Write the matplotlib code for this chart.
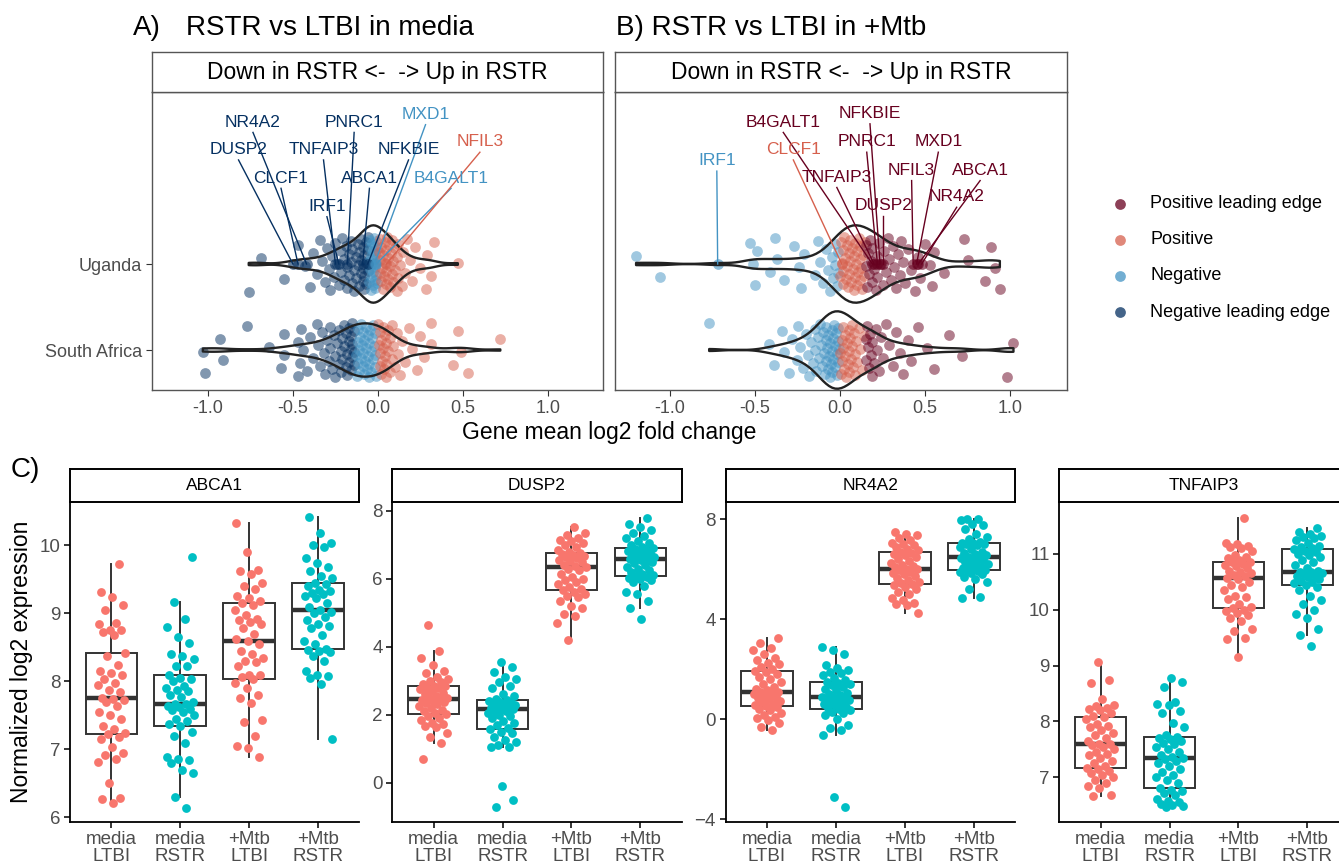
# plot.py - GSEA leading-edge log2FC (A, B) + per-gene expression boxplots (C)
import numpy as np, matplotlib as mpl
mpl.use("Agg"); import matplotlib.pyplot as plt

plt.rcParams["font.family"] = ["Liberation Sans", "DejaVu Sans"]

# ============================== DATA ==============================
# A) RSTR vs LTBI in media: gene mean log2 fold change per GSEA category
A_UG_NLE = [-0.76, -0.69, -0.55, -0.47, -0.43, -0.40, -0.38, -0.36, -0.34, -0.33, -0.31, -0.30, -0.29, -0.28,
            -0.27, -0.26, -0.25, -0.24, -0.23, -0.22, -0.22, -0.21, -0.20, -0.20, -0.19, -0.18, -0.18, -0.17,
            -0.17, -0.16, -0.16, -0.15, -0.15, -0.14, -0.14, -0.13, -0.13, -0.12, -0.12, -0.11, -0.11, -0.10,
            -0.10, -0.10, -0.09, -0.09, -0.09, -0.08, -0.08, -0.08, -0.07, -0.07, -0.07, -0.06, -0.06, -0.06]
A_UG_NEG = [-0.055, -0.05, -0.05, -0.045, -0.045, -0.04, -0.04, -0.04, -0.035, -0.035, -0.03, -0.03, -0.03,
            -0.025, -0.025, -0.02, -0.02, -0.02, -0.015, -0.015, -0.01, -0.01, -0.01, -0.005, -0.005]
A_UG_POS = [0.005, 0.01, 0.01, 0.015, 0.02, 0.02, 0.025, 0.03, 0.03, 0.035, 0.04, 0.04, 0.045, 0.05, 0.05,
            0.055, 0.06, 0.06, 0.065, 0.07, 0.07, 0.075, 0.08, 0.08, 0.09, 0.09, 0.10, 0.10, 0.11, 0.11, 0.12,
            0.12, 0.13, 0.14, 0.15, 0.16, 0.17, 0.19, 0.20, 0.22, 0.25, 0.28, 0.29, 0.31, 0.33, 0.47]
A_SA_NLE = [-1.03, -1.02, -0.93, -0.91, -0.77, -0.64, -0.57, -0.55, -0.55, -0.47, -0.47, -0.46, -0.45, -0.44,
            -0.42, -0.40, -0.38, -0.36, -0.35, -0.34, -0.33, -0.32, -0.31, -0.30, -0.29, -0.28, -0.28, -0.27,
            -0.26, -0.25, -0.25, -0.24, -0.23, -0.23, -0.22, -0.22, -0.21, -0.21, -0.20, -0.20, -0.19, -0.19,
            -0.18, -0.18, -0.17, -0.17, -0.17, -0.16, -0.16, -0.16, -0.15, -0.15, -0.15, -0.14, -0.14, -0.14]
A_SA_NEG = [-0.13, -0.125, -0.12, -0.12, -0.115, -0.11, -0.11, -0.105, -0.10, -0.10, -0.095, -0.09, -0.09,
            -0.085, -0.08, -0.08, -0.075, -0.07, -0.07, -0.065, -0.06, -0.06, -0.055, -0.05, -0.05, -0.045,
            -0.04, -0.04, -0.035, -0.03, -0.03, -0.025, -0.02, -0.02, -0.015, -0.01]
A_SA_POS = [0.0, 0.005, 0.01, 0.01, 0.015, 0.02, 0.02, 0.025, 0.03, 0.03, 0.035, 0.04, 0.04, 0.045, 0.05,
            0.05, 0.06, 0.06, 0.07, 0.07, 0.08, 0.08, 0.09, 0.10, 0.11, 0.12, 0.13, 0.14, 0.16, 0.18, 0.20,
            0.23, 0.25, 0.27, 0.31, 0.31, 0.44, 0.47, 0.49, 0.53, 0.72]
A_LAB_GENES = ["DUSP2", "CLCF1", "NR4A2", "TNFAIP3", "IRF1", "PNRC1", "ABCA1", "NFKBIE", "MXD1", "B4GALT1", "NFIL3"]
A_LAB_LFC = [-0.50, -0.47, -0.42, -0.25, -0.23, -0.18, -0.09, -0.06, -0.02, -0.01, 0.05]
A_LAB_CAT = ["nle"] * 8 + ["neg", "neg", "pos"]

# B) RSTR vs LTBI in +Mtb
B_UG_NEG = [-1.20, -1.06, -0.53, -0.51, -0.50, -0.49, -0.41, -0.38, -0.37, -0.33, -0.27, -0.24, -0.23, -0.21,
            -0.15, -0.13, -0.12, -0.10, -0.08, -0.07, -0.06, -0.05, -0.04, -0.03, -0.03, -0.02, -0.01, -0.01]
B_UG_POS = [0.0, 0.005, 0.01, 0.015, 0.02, 0.02, 0.025, 0.03, 0.035, 0.04, 0.04, 0.045, 0.05, 0.055, 0.06,
            0.06, 0.065, 0.07, 0.075, 0.08, 0.08, 0.085, 0.09, 0.095, 0.10, 0.10, 0.105, 0.11, 0.115, 0.12,
            0.12, 0.125, 0.13, 0.135, 0.14, 0.145]
B_UG_PLE = [0.15, 0.155, 0.16, 0.165, 0.17, 0.175, 0.18, 0.185, 0.19, 0.20, 0.21, 0.215, 0.22, 0.23, 0.24,
            0.25, 0.26, 0.27, 0.28, 0.29, 0.30, 0.31, 0.32, 0.33, 0.34, 0.35, 0.36, 0.37, 0.38, 0.40, 0.42,
            0.44, 0.46, 0.47, 0.50, 0.53, 0.54, 0.55, 0.61, 0.73, 0.75, 0.85, 0.89, 0.91, 0.94]
B_SA_NEG = [-0.77, -0.42, -0.39, -0.34, -0.33, -0.30, -0.28, -0.255, -0.245, -0.235, -0.22, -0.20, -0.19,
            -0.18, -0.17, -0.16, -0.15, -0.145, -0.14, -0.13, -0.125, -0.12, -0.11, -0.105, -0.10, -0.095,
            -0.09, -0.085, -0.08, -0.08, -0.075, -0.07, -0.07, -0.065, -0.06, -0.06, -0.055, -0.05, -0.05,
            -0.045, -0.04, -0.04, -0.035, -0.03, -0.03, -0.025, -0.02, -0.02, -0.015, -0.01, -0.01, -0.005]
B_SA_POS = [0.0, 0.005, 0.01, 0.01, 0.015, 0.02, 0.025, 0.03, 0.03, 0.035, 0.04, 0.045, 0.05, 0.05, 0.055,
            0.06, 0.065, 0.07, 0.07, 0.075, 0.08, 0.085, 0.09, 0.095, 0.10, 0.11, 0.12, 0.13, 0.14]
B_SA_PLE = [0.15, 0.155, 0.16, 0.165, 0.17, 0.175, 0.18, 0.185, 0.19, 0.20, 0.21, 0.22, 0.23, 0.24, 0.25,
            0.27, 0.29, 0.31, 0.33, 0.35, 0.37, 0.40, 0.42, 0.46, 0.51, 0.55, 0.64, 0.72, 0.98, 1.02]
B_LAB_GENES = ["IRF1", "CLCF1", "B4GALT1", "TNFAIP3", "PNRC1", "NFKBIE", "DUSP2", "NFIL3", "MXD1", "ABCA1", "NR4A2"]
B_LAB_LFC = [-0.72, 0.01, 0.19, 0.20, 0.22, 0.235, 0.255, 0.43, 0.45, 0.46, 0.48]
B_LAB_CAT = ["neg", "pos"] + ["ple"] * 9

CAT_KEYS = ["ple", "pos", "neg", "nle"]
CAT_NAMES = ["Positive leading edge", "Positive", "Negative", "Negative leading edge"]
COHORTS = ["South Africa", "Uganda"]

# C) normalized log2 expression per donor (groups: media LTBI, media RSTR, +Mtb LTBI, +Mtb RSTR)
GROUP_LABELS = ["media\nLTBI", "media\nRSTR", "+Mtb\nLTBI", "+Mtb\nRSTR"]
GROUP_STATUS = ["LTBI", "RSTR", "LTBI", "RSTR"]
C_GENES = ["ABCA1", "DUSP2", "NR4A2", "TNFAIP3"]
ABCA1 = [
 [6.21, 6.27, 6.28, 6.50, 6.82, 6.86, 6.92, 6.95, 7.04, 7.15, 7.18, 7.22, 7.24, 7.30, 7.35, 7.45, 7.50, 7.55, 7.64, 7.70,
  7.73, 7.74, 7.75, 7.85, 7.88, 7.95, 7.98, 8.04, 8.10, 8.12, 8.16, 8.24, 8.37, 8.42, 8.69, 8.73, 8.75, 8.76, 8.85, 8.86,
  9.05, 9.13, 9.24, 9.32, 9.73],
 [6.13, 6.30, 6.65, 6.70, 6.80, 6.85, 6.86, 6.88, 7.10, 7.20, 7.25, 7.35, 7.38, 7.42, 7.45, 7.50, 7.55, 7.58, 7.60, 7.62,
  7.64, 7.66, 7.67, 7.70, 7.77, 7.80, 7.86, 7.88, 7.90, 7.93, 8.00, 8.03, 8.05, 8.10, 8.22, 8.22, 8.33, 8.38, 8.40, 8.56,
  8.66, 8.80, 8.92, 9.17, 9.83],
 [6.88, 7.02, 7.05, 7.20, 7.40, 7.43, 7.68, 7.75, 7.80, 7.90, 7.98, 8.04, 8.06, 8.10, 8.10, 8.22, 8.28, 8.30, 8.35, 8.40,
  8.45, 8.55, 8.60, 8.62, 8.70, 8.78, 8.85, 8.88, 8.90, 8.92, 8.98, 9.05, 9.12, 9.15, 9.18, 9.22, 9.25, 9.36, 9.40, 9.45,
  9.58, 9.62, 9.64, 9.90, 10.33],
 [7.15, 7.96, 8.05, 8.08, 8.10, 8.15, 8.30, 8.38, 8.43, 8.45, 8.46, 8.48, 8.55, 8.60, 8.68, 8.78, 8.82, 8.85, 8.90, 8.95,
  9.00, 9.02, 9.05, 9.10, 9.15, 9.22, 9.25, 9.28, 9.30, 9.33, 9.35, 9.40, 9.43, 9.45, 9.52, 9.55, 9.62, 9.68, 9.74, 9.82,
  9.98, 10.00, 10.03, 10.18, 10.42]]
DUSP2 = [
 [0.69, 1.18, 1.35, 1.45, 1.65, 1.68, 1.72, 1.75, 1.85, 1.90, 1.95, 2.02, 2.05, 2.10, 2.15, 2.20, 2.25, 2.30, 2.35, 2.38,
  2.40, 2.42, 2.45, 2.48, 2.50, 2.55, 2.60, 2.65, 2.70, 2.75, 2.78, 2.80, 2.83, 2.85, 2.90, 2.95, 3.00, 3.05, 3.10, 3.22,
  3.30, 3.45, 3.66, 3.87, 4.63],
 [-0.72, -0.50, -0.10, 1.04, 1.05, 1.10, 1.20, 1.25, 1.35, 1.45, 1.50, 1.59, 1.62, 1.70, 1.75, 1.80, 1.90, 1.95, 2.00,
  2.05, 2.10, 2.12, 2.16, 2.18, 2.20, 2.22, 2.25, 2.28, 2.30, 2.33, 2.35, 2.38, 2.40, 2.43, 2.45, 2.55, 2.60, 2.80, 2.85,
  2.95, 3.05, 3.10, 3.27, 3.40, 3.54],
 [4.20, 4.70, 4.90, 4.95, 5.15, 5.20, 5.35, 5.45, 5.50, 5.55, 5.62, 5.67, 5.70, 5.75, 5.85, 5.90, 5.95, 6.00, 6.05, 6.15,
  6.25, 6.30, 6.34, 6.38, 6.42, 6.48, 6.52, 6.55, 6.60, 6.65, 6.68, 6.70, 6.72, 6.75, 6.80, 6.85, 6.95, 7.00, 7.05, 7.10,
  7.15, 7.20, 7.28, 7.35, 7.51],
 [4.83, 5.15, 5.35, 5.55, 5.60, 5.80, 5.90, 5.95, 6.00, 6.02, 6.05, 6.08, 6.12, 6.15, 6.20, 6.25, 6.30, 6.35, 6.40, 6.45,
  6.50, 6.55, 6.575, 6.60, 6.62, 6.65, 6.68, 6.70, 6.75, 6.80, 6.83, 6.85, 6.88, 6.90, 6.95, 7.00, 7.05, 7.10, 7.20, 7.25,
  7.35, 7.45, 7.52, 7.60, 7.80]]
NR4A2 = [
 [-0.44, -0.30, -0.15, -0.05, 0.05, 0.10, 0.18, 0.25, 0.35, 0.42, 0.48, 0.53, 0.58, 0.62, 0.68, 0.72, 0.80, 0.85, 0.90,
  0.95, 1.00, 1.04, 1.07, 1.10, 1.15, 1.20, 1.30, 1.40, 1.50, 1.60, 1.70, 1.80, 1.88, 1.92, 2.00, 2.10, 2.20, 2.25, 2.35,
  2.45, 2.60, 2.75, 2.85, 3.05, 3.26],
 [-3.50, -3.10, -0.64, -0.45, -0.35, -0.25, 0.00, 0.15, 0.25, 0.30, 0.35, 0.39, 0.45, 0.50, 0.55, 0.60, 0.65, 0.70, 0.75,
  0.78, 0.82, 0.85, 0.87, 0.90, 0.95, 1.00, 1.05, 1.15, 1.20, 1.28, 1.35, 1.40, 1.45, 1.50, 1.55, 1.65, 1.75, 1.85, 1.90,
  1.95, 2.05, 2.15, 2.60, 2.75, 2.90],
 [4.26, 4.55, 4.60, 4.65, 4.75, 4.85, 5.00, 5.10, 5.20, 5.28, 5.35, 5.39, 5.45, 5.50, 5.58, 5.65, 5.72, 5.80, 5.85, 5.90,
  5.95, 6.00, 6.02, 6.08, 6.12, 6.18, 6.25, 6.32, 6.40, 6.48, 6.55, 6.60, 6.65, 6.69, 6.75, 6.80, 6.88, 6.95, 7.00, 7.05,
  7.15, 7.25, 7.35, 7.42, 7.50],
 [4.85, 4.90, 5.20, 5.50, 5.60, 5.70, 5.80, 5.85, 5.90, 5.92, 5.95, 5.97, 6.00, 6.05, 6.10, 6.15, 6.20, 6.25, 6.30, 6.35,
  6.40, 6.45, 6.475, 6.50, 6.55, 6.60, 6.65, 6.70, 6.80, 6.90, 6.95, 7.00, 7.02, 7.04, 7.05, 7.10, 7.20, 7.30, 7.40, 7.60,
  7.75, 7.80, 7.95, 8.00, 8.02]]
TNFAIP3 = [
 [6.67, 6.68, 6.80, 6.85, 6.90, 6.95, 7.00, 7.05, 7.08, 7.12, 7.14, 7.16, 7.20, 7.25, 7.30, 7.35, 7.40, 7.42, 7.45, 7.50,
  7.55, 7.58, 7.59, 7.60, 7.65, 7.70, 7.75, 7.80, 7.85, 7.90, 7.92, 7.95, 8.05, 8.08, 8.10, 8.15, 8.20, 8.22, 8.25, 8.28,
  8.30, 8.40, 8.68, 8.75, 9.06],
 [6.47, 6.48, 6.50, 6.52, 6.55, 6.58, 6.62, 6.68, 6.72, 6.75, 6.78, 6.81, 6.90, 6.95, 7.00, 7.05, 7.10, 7.15, 7.20, 7.25,
  7.30, 7.32, 7.34, 7.36, 7.40, 7.45, 7.50, 7.55, 7.60, 7.62, 7.65, 7.68, 7.70, 7.73, 7.75, 7.90, 7.98, 8.15, 8.18, 8.30,
  8.32, 8.35, 8.62, 8.70, 8.77],
 [9.15, 9.48, 9.50, 9.62, 9.65, 9.80, 9.85, 9.90, 9.95, 9.98, 10.00, 10.03, 10.05, 10.10, 10.20, 10.22, 10.25, 10.35,
  10.40, 10.45, 10.50, 10.55, 10.57, 10.60, 10.62, 10.65, 10.68, 10.70, 10.75, 10.78, 10.80, 10.82, 10.85, 10.86, 10.90,
  10.92, 10.95, 10.98, 11.05, 11.10, 11.12, 11.15, 11.18, 11.20, 11.65],
 [9.36, 9.55, 9.65, 9.85, 9.92, 10.00, 10.10, 10.18, 10.25, 10.35, 10.40, 10.44, 10.48, 10.50, 10.52, 10.55, 10.58,
  10.60, 10.62, 10.64, 10.66, 10.67, 10.68, 10.70, 10.75, 10.80, 10.85, 10.90, 10.95, 10.98, 11.00, 11.03, 11.06, 11.08,
  11.10, 11.12, 11.15, 11.20, 11.25, 11.28, 11.30, 11.32, 11.35, 11.40, 11.47]]
C_DATA = [ABCA1, DUSP2, NR4A2, TNFAIP3]

# ============================== STYLE / LAYOUT ==============================
W, H = 1339, 866
CAT_COL = {"ple": "#67001F", "pos": "#D6604D", "neg": "#4393C3", "nle": "#053061"}
STATUS_COL = {"LTBI": "#F8766D", "RSTR": "#00BFC4"}
GREY = "#4D4D4D"
PT_TOP, PT_C = 60, 40
# label anchor positions (data coords) for repelled gene labels
A_LAB_POS = {"NR4A2": (-0.735, 3.65), "PNRC1": (-0.14, 3.65), "MXD1": (0.28, 3.74), "DUSP2": (-0.82, 3.33),
             "TNFAIP3": (-0.32, 3.33), "NFKBIE": (0.18, 3.33), "NFIL3": (0.60, 3.42), "CLCF1": (-0.57, 3.0),
             "ABCA1": (-0.05, 3.0), "B4GALT1": (0.43, 3.0), "IRF1": (-0.30, 2.67)}
B_LAB_POS = {"NFKBIE": (0.176, 3.75), "B4GALT1": (-0.334, 3.65), "PNRC1": (0.157, 3.42), "MXD1": (0.578, 3.42),
             "CLCF1": (-0.275, 3.33), "IRF1": (-0.725, 3.20), "NFIL3": (0.421, 3.09), "ABCA1": (0.824, 3.09),
             "TNFAIP3": (-0.019, 3.01), "NR4A2": (0.686, 2.78), "DUSP2": (0.255, 2.68)}
C_YTICKS = [[6, 7, 8, 9, 10], [0, 2, 4, 6, 8], [-4, 0, 4, 8], [7, 8, 9, 10, 11]]
C_YLIM = [(5.935, 10.64), (-1.15, 8.26), (-4.1, 8.68), (6.205, 11.93)]
C_LEFT = [70, 392.3, 725.7, 1059.3]

def rect(l, t, r, b): return [l / W, 1 - b / H, (r - l) / W, (b - t) / H]
def ftext(x, y, s, **kw): fig.text(x / W, 1 - y / H, s, **kw)

_jit_start = [0]
def jitter(n, amp):
    k = np.arange(_jit_start[0], _jit_start[0] + n); _jit_start[0] += n + 7
    return ((k * 0.6180339887) % 1.0 * 2 - 1) * amp

def nrd0_factor(v):
    v = np.asarray(v, float); sd = v.std(ddof=1)
    q75, q25 = np.percentile(v, [75, 25])
    return 0.9 * min(sd, (q75 - q25) / 1.34) * len(v) ** -0.2 / sd

def strip(l, t, r, b, label, fs, ec, lw):
    ax = fig.add_axes(rect(l, t, r, b)); ax.set_xticks([]); ax.set_yticks([])
    for s in ax.spines.values(): s.set_color(ec); s.set_linewidth(lw)
    ax.text(0.5, 0.5, label, ha="center", va="center", fontsize=fs, transform=ax.transAxes)
    return ax

fig = plt.figure(figsize=(W / 100, H / 100), dpi=100)

# ---------------- A / B ----------------
def draw_lfc(ax, rows, genes, lfcs, cats, lab_pos, lab_row, widths, xlim):
    for (ypos, parts), w in zip(rows, widths):
        allv = []
        for vals, cat in parts:
            ax.scatter(vals, ypos + jitter(len(vals), 0.32), s=PT_TOP, color=CAT_COL[cat], alpha=0.5, lw=0, zorder=2)
            allv += vals
        if ypos == lab_row: allv += list(lfcs)
        vp = ax.violinplot([allv], positions=[ypos], orientation="horizontal", widths=w,
                           showextrema=False, bw_method=nrd0_factor(allv))
        for b in vp["bodies"]:
            b.set_facecolor("none"); b.set_edgecolor("#222222"); b.set_linewidth(1.7); b.set_alpha(1); b.set_zorder(4)
    for g, v, c in zip(genes, lfcs, cats):
        tx, ty = lab_pos[g]
        ax.scatter([v], [lab_row], s=PT_TOP, color=CAT_COL[c], alpha=0.6, lw=0, zorder=3)
        ax.plot([tx, v], [ty - 0.12, lab_row], color=CAT_COL[c], lw=1.0, zorder=5)
        ax.text(tx, ty, g, ha="center", va="center", fontsize=12.5, color=CAT_COL[c], zorder=6)
    ax.set_xlim(*xlim); ax.set_ylim(0.535, 4.0)
    ax.set_xticks([-1, -0.5, 0, 0.5, 1]); ax.set_xticklabels(["-1.0", "-0.5", "0.0", "0.5", "1.0"])
    ax.tick_params(axis="x", length=4, color="#333333", labelsize=13, labelcolor=GREY, pad=3)
    for s in ax.spines.values(): s.set_color("#555555"); s.set_linewidth(1.0)

axA = fig.add_axes(rect(152, 92, 603, 390))
draw_lfc(axA, [(2, [(A_UG_NLE, "nle"), (A_UG_NEG, "neg"), (A_UG_POS, "pos")]),
               (1, [(A_SA_NLE, "nle"), (A_SA_NEG, "neg"), (A_SA_POS, "pos")])],
         A_LAB_GENES, A_LAB_LFC, A_LAB_CAT, A_LAB_POS, 2, [0.9, 0.62], (-1.329, 1.324))
axA.set_yticks([1, 2]); axA.set_yticklabels(COHORTS)
axA.tick_params(axis="y", length=4, color="#333333", labelsize=13, labelcolor=GREY, pad=3)

axB = fig.add_axes(rect(615, 92, 1067, 390))
draw_lfc(axB, [(2, [(B_UG_NEG, "neg"), (B_UG_POS, "pos"), (B_UG_PLE, "ple")]),
               (1, [(B_SA_NEG, "neg"), (B_SA_POS, "pos"), (B_SA_PLE, "ple")])],
         B_LAB_GENES, B_LAB_LFC, B_LAB_CAT, B_LAB_POS, 2, [0.9, 0.9], (-1.324, 1.335))
axB.set_yticks([])

strip(152, 52, 603, 92, "Down in RSTR <-  -> Up in RSTR", 16.5, "#555555", 1.0)
strip(615, 52, 1067, 92, "Down in RSTR <-  -> Up in RSTR", 16.5, "#555555", 1.0)
ftext(133, 28, "A)", fontsize=20, va="center", ha="left")
ftext(186, 28, "RSTR vs LTBI in media", fontsize=20, va="center", ha="left")
ftext(616, 28, "B) RSTR vs LTBI in +Mtb", fontsize=20, va="center", ha="left")
ftext(609, 433, "Gene mean log2 fold change", fontsize=16.5, va="center", ha="center")

# legend
axL = fig.add_axes(rect(1100, 185, 1339, 330)); axL.set_axis_off()
axL.set_xlim(0, 239); axL.set_ylim(145, 0)
for i, (k, name) in enumerate(zip(CAT_KEYS, CAT_NAMES)):
    yy = 19 + i * 36
    axL.scatter([20], [yy], s=PT_TOP, color=CAT_COL[k], alpha=0.75, lw=0)
    axL.text(50, yy, name, va="center", ha="left", fontsize=13)

# ---------------- C ----------------
for gi, (gene, groups) in enumerate(zip(C_GENES, C_DATA)):
    l = C_LEFT[gi]
    ax = fig.add_axes(rect(l, 502, l + 289.4, 821.7))
    pos = np.arange(1, 5)
    ax.boxplot(groups, positions=pos, widths=0.75, showfliers=False, showcaps=False, patch_artist=True,
               boxprops=dict(facecolor="white", edgecolor="#333333", linewidth=1.4),
               medianprops=dict(color="#333333", linewidth=3.2),
               whiskerprops=dict(color="#333333", linewidth=1.4), zorder=1)
    for p, vals, st in zip(pos, groups, GROUP_STATUS):
        ax.scatter(p + jitter(len(vals), 0.21), vals, s=PT_C, color=STATUS_COL[st], lw=0, zorder=3)
    ax.set_xlim(0.4, 4.6); ax.set_ylim(*C_YLIM[gi])
    ax.set_xticks(pos); ax.set_xticklabels(GROUP_LABELS, linespacing=0.95)
    ax.set_yticks(C_YTICKS[gi])
    for s in ["top", "right"]: ax.spines[s].set_visible(False)
    for s in ["left", "bottom"]: ax.spines[s].set_linewidth(1.3)
    ax.tick_params(length=4, width=1.1, labelsize=13.5, labelcolor=GREY, pad=3)
    strip(l, 468.5, l + 289.4, 502, gene, 12.5, "black", 1.4)

ftext(25, 470, "C)", fontsize=20, va="center", ha="center")
ftext(22, 662, "Normalized log2 expression", fontsize=16.5, va="center", ha="center", rotation=90)

fig.savefig("out.png", dpi=100)
